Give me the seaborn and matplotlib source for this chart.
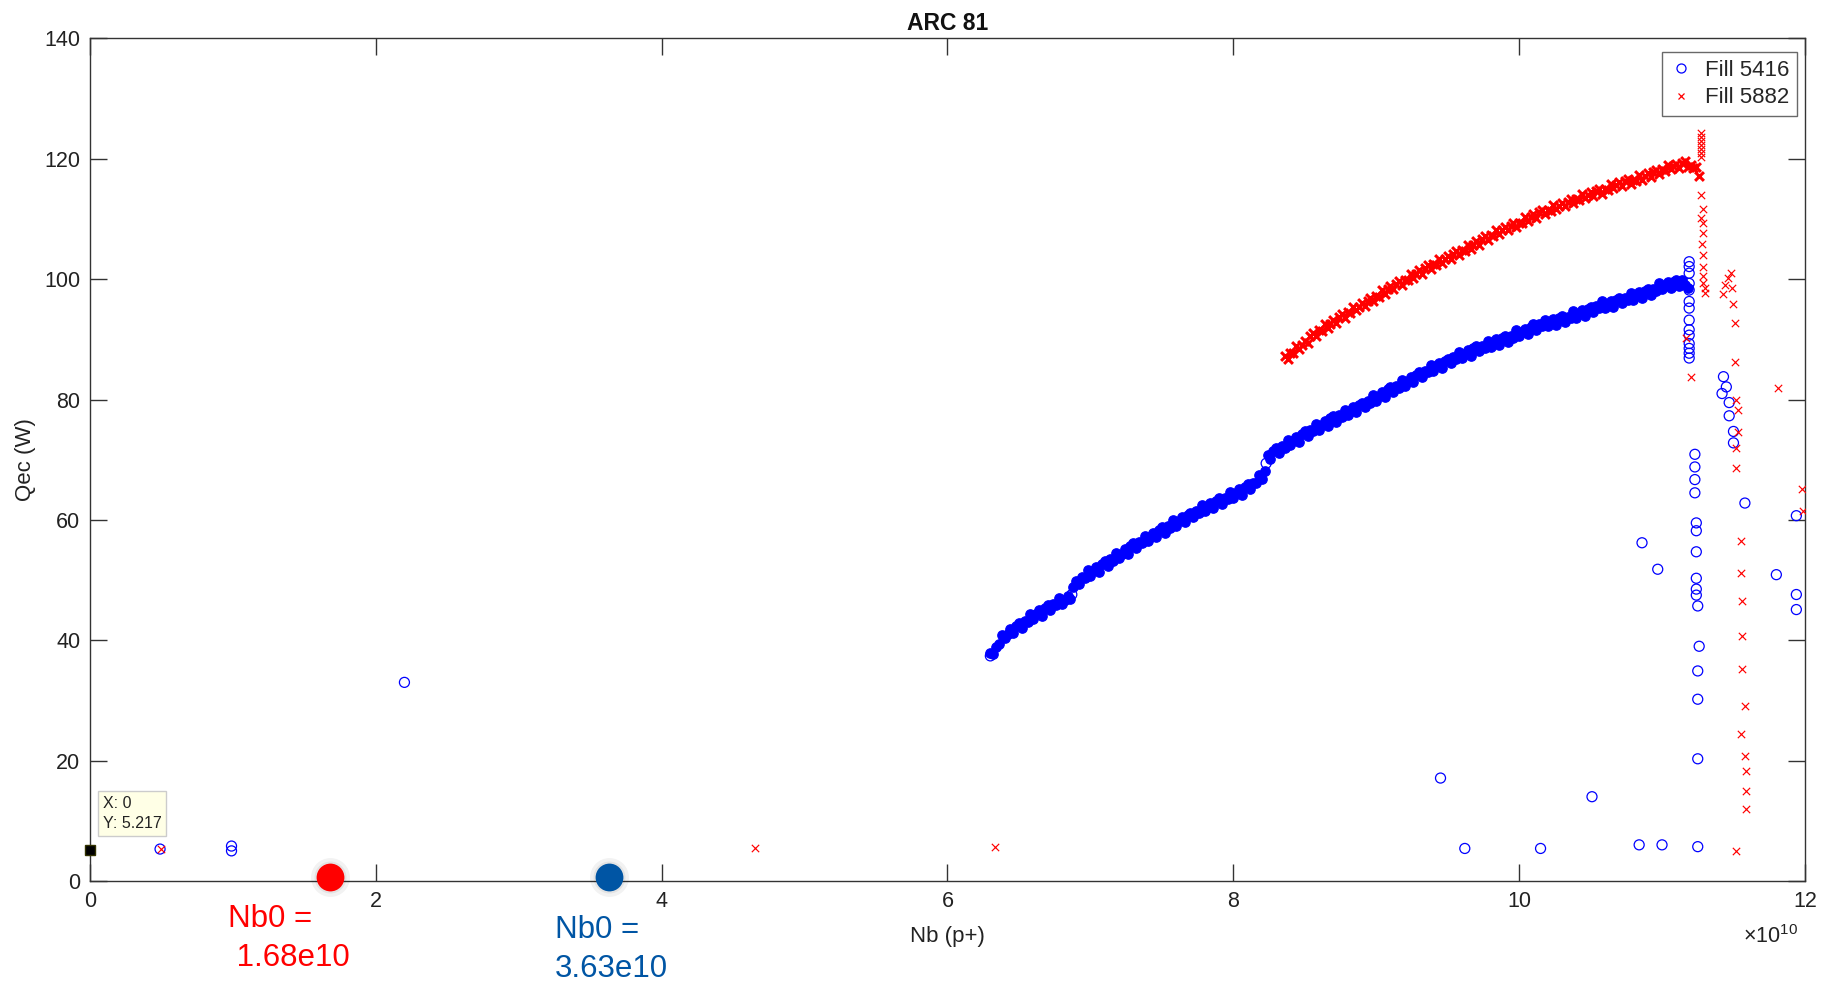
import matplotlib
matplotlib.use("Agg")
import matplotlib.pyplot as plt
from matplotlib.lines import Line2D
import seaborn as sns
import pandas as pd

# ---- Fill 5416 (blue circles): main curve ----
fill5416_x = [
    6.30, 6.32, 6.34, 6.36, 6.38, 6.40, 6.42, 6.44, 6.46, 6.48,
    6.50, 6.52, 6.54, 6.56, 6.58, 6.60, 6.62, 6.64, 6.66, 6.68,
    6.70, 6.72, 6.74, 6.76, 6.78, 6.80, 6.82, 6.84, 6.86, 6.88,
    6.90, 6.92, 6.94, 6.96, 6.98, 7.00, 7.02, 7.04, 7.06, 7.08,
    7.10, 7.12, 7.14, 7.16, 7.18, 7.20, 7.22, 7.24, 7.26, 7.28,
    7.30, 7.32, 7.34, 7.36, 7.38, 7.40, 7.42, 7.44, 7.46, 7.48,
    7.50, 7.52, 7.54, 7.56, 7.58, 7.60, 7.62, 7.64, 7.66, 7.68,
    7.70, 7.72, 7.74, 7.76, 7.78, 7.80, 7.82, 7.84, 7.86, 7.88,
    7.90, 7.92, 7.94, 7.96, 7.98, 8.00, 8.02, 8.04, 8.06, 8.08,
    8.10, 8.12, 8.14, 8.16, 8.18, 8.20, 8.22, 8.24, 8.26, 8.28,
    8.30, 8.32, 8.34, 8.36, 8.38, 8.40, 8.42, 8.44, 8.46, 8.48,
    8.50, 8.52, 8.54, 8.56, 8.58, 8.60, 8.62, 8.64, 8.66, 8.68,
    8.70, 8.72, 8.74, 8.76, 8.78, 8.80, 8.82, 8.84, 8.86, 8.88,
    8.90, 8.92, 8.94, 8.96, 8.98, 9.00, 9.02, 9.04, 9.06, 9.08,
    9.10, 9.12, 9.14, 9.16, 9.18, 9.20, 9.22, 9.24, 9.26, 9.28,
    9.30, 9.32, 9.34, 9.36, 9.38, 9.40, 9.42, 9.44, 9.46, 9.48,
    9.50, 9.52, 9.54, 9.56, 9.58, 9.60, 9.62, 9.64, 9.66, 9.68,
    9.70, 9.72, 9.74, 9.76, 9.78, 9.80, 9.82, 9.84, 9.86, 9.88,
    9.90, 9.92, 9.94, 9.96, 9.98, 10.00, 10.02, 10.04, 10.06, 10.08,
    10.10, 10.12, 10.14, 10.16, 10.18, 10.20, 10.22, 10.24, 10.26, 10.28,
    10.30, 10.32, 10.34, 10.36, 10.38, 10.40, 10.42, 10.44, 10.46, 10.48,
    10.50, 10.52, 10.54, 10.56, 10.58, 10.60, 10.62, 10.64, 10.66, 10.68,
    10.70, 10.72, 10.74, 10.76, 10.78, 10.80, 10.82, 10.84, 10.86, 10.88,
    10.90, 10.92, 10.94, 10.96, 10.98, 11.00, 11.02, 11.04, 11.06, 11.08,
    11.10, 11.12, 11.14, 11.16, 11.18]
fill5416_y = [
    37.8, 37.7, 38.8, 39.3, 40.8, 40.4, 41.1, 41.8, 41.2, 42.4,
    42.9, 42.1, 43.2, 43.1, 44.4, 43.5, 44.3, 45.0, 44.1, 45.4,
    45.8, 45.0, 46.0, 45.8, 47.0, 46.0, 46.7, 47.3, 46.9, 48.8,
    49.8, 49.3, 50.5, 50.3, 51.6, 50.7, 51.5, 52.2, 51.4, 52.7,
    53.2, 52.4, 53.5, 53.2, 54.5, 53.6, 54.4, 55.1, 54.3, 55.6,
    56.1, 55.3, 56.3, 56.1, 57.4, 56.5, 57.2, 57.9, 57.1, 58.3,
    58.8, 57.9, 59.0, 58.7, 60.0, 59.0, 59.8, 60.4, 59.6, 60.8,
    61.2, 60.4, 61.4, 61.2, 62.4, 61.4, 62.2, 62.8, 61.9, 63.2,
    63.6, 62.7, 63.7, 63.5, 64.7, 63.7, 64.5, 65.1, 64.2, 65.5,
    65.9, 65.1, 66.2, 66.1, 67.5, 66.8, 68.2, 70.8, 70.1, 71.5,
    72.0, 71.2, 72.2, 72.0, 73.3, 72.4, 73.1, 73.8, 73.0, 74.2,
    74.7, 73.9, 74.9, 74.7, 76.0, 75.0, 75.8, 76.5, 75.6, 76.9,
    77.2, 76.3, 77.4, 77.1, 78.3, 77.4, 78.1, 78.7, 77.9, 79.1,
    79.5, 78.7, 79.7, 79.5, 80.7, 79.8, 80.6, 81.2, 80.4, 81.7,
    82.1, 81.2, 82.3, 82.0, 83.3, 82.3, 83.1, 83.7, 82.9, 84.1,
    84.5, 83.7, 84.7, 84.5, 85.7, 84.7, 85.5, 86.1, 85.2, 86.4,
    86.8, 86.0, 87.0, 86.7, 87.9, 86.9, 87.6, 88.2, 87.3, 88.5,
    88.9, 88.0, 88.9, 88.6, 89.8, 88.7, 89.4, 90.0, 89.0, 90.2,
    90.5, 89.6, 90.6, 90.3, 91.5, 90.5, 91.2, 91.8, 90.9, 92.1,
    92.5, 91.6, 92.6, 92.2, 93.3, 92.3, 92.9, 93.4, 92.4, 93.6,
    93.9, 92.9, 93.8, 93.5, 94.7, 93.6, 94.3, 94.9, 93.9, 95.1,
    95.4, 94.5, 95.5, 95.2, 96.3, 95.2, 95.9, 96.4, 95.4, 96.6,
    96.9, 96.0, 96.9, 96.5, 97.7, 96.6, 97.3, 97.8, 96.8, 98.0,
    98.3, 97.4, 98.4, 98.1, 99.3, 98.3, 99.0, 99.5, 98.5, 99.6,
    99.9, 98.9, 99.8, 99.0, 98.6]

# ---- Fill 5416: scattered points (injection / dump) ----
fill5416_extra_x = [0.49, 0.99, 0.99, 2.20, 9.45, 9.62, 10.15, 10.51, 10.84, 11.00, 11.25,
                    10.86, 10.97, 11.80, 11.94, 11.94, 11.94, 11.58, 8.23, 6.87, 6.30,
                    11.47, 11.47, 11.50, 11.50, 11.43, 11.42, 11.45,
                    11.23, 11.23, 11.23, 11.23, 11.24, 11.24, 11.24, 11.24, 11.24, 11.24, 11.25,
                    11.26, 11.25, 11.25, 11.25,
                    11.19, 11.19, 11.19, 11.19, 11.19, 11.19, 11.19, 11.19, 11.19, 11.19, 11.19,
                    11.19, 11.19, 11.19]
fill5416_extra_y = [5.3, 5.0, 5.8, 33.0, 17.1, 5.4, 5.4, 14.0, 6.0, 6.0, 5.7,
                    56.2, 51.8, 50.9, 47.6, 45.1, 60.7, 62.8, 69.4, 47.6, 37.4,
                    79.5, 77.3, 74.7, 72.8, 83.8, 81.0, 82.1,
                    70.9, 68.8, 66.7, 64.5, 59.5, 58.2, 54.7, 50.3, 48.5, 47.5, 45.7,
                    39.0, 34.9, 30.2, 20.3,
                    102.9, 102.1, 101.0, 99.3, 98.2, 96.3, 95.2, 93.2, 91.6, 90.7, 89.3,
                    88.5, 87.7, 86.9]

# ---- Fill 5882 (red crosses): main curve ----
fill5882_x = [
    8.36, 8.38, 8.40, 8.42, 8.44, 8.46, 8.48, 8.50, 8.52, 8.54,
    8.56, 8.58, 8.60, 8.62, 8.64, 8.66, 8.68, 8.70, 8.72, 8.74,
    8.76, 8.78, 8.80, 8.82, 8.84, 8.86, 8.88, 8.90, 8.92, 8.94,
    8.96, 8.98, 9.00, 9.02, 9.04, 9.06, 9.08, 9.10, 9.12, 9.14,
    9.16, 9.18, 9.20, 9.22, 9.24, 9.26, 9.28, 9.30, 9.32, 9.34,
    9.36, 9.38, 9.40, 9.42, 9.44, 9.46, 9.48, 9.50, 9.52, 9.54,
    9.56, 9.58, 9.60, 9.62, 9.64, 9.66, 9.68, 9.70, 9.72, 9.74,
    9.76, 9.78, 9.80, 9.82, 9.84, 9.86, 9.88, 9.90, 9.92, 9.94,
    9.96, 9.98, 10.00, 10.02, 10.04, 10.06, 10.08, 10.10, 10.12, 10.14,
    10.16, 10.18, 10.20, 10.22, 10.24, 10.26, 10.28, 10.30, 10.32, 10.34,
    10.36, 10.38, 10.40, 10.42, 10.44, 10.46, 10.48, 10.50, 10.52, 10.54,
    10.56, 10.58, 10.60, 10.62, 10.64, 10.66, 10.68, 10.70, 10.72, 10.74,
    10.76, 10.78, 10.80, 10.82, 10.84, 10.86, 10.88, 10.90, 10.92, 10.94,
    10.96, 10.98, 11.00, 11.02, 11.04, 11.06, 11.08, 11.10, 11.12, 11.14,
    11.16, 11.18, 11.20, 11.22, 11.24, 11.26]
fill5882_y = [
    87.3, 86.8, 87.8, 87.7, 88.9, 88.4, 89.1, 89.8, 89.4, 90.5,
    91.1, 90.5, 91.5, 91.4, 92.5, 91.9, 92.6, 93.2, 92.7, 93.7,
    94.2, 93.6, 94.5, 94.3, 95.4, 94.8, 95.4, 96.0, 95.5, 96.4,
    96.9, 96.3, 97.2, 97.1, 98.2, 97.6, 98.3, 98.8, 98.3, 99.2,
    99.7, 99.0, 99.9, 99.8, 100.8, 100.2, 100.9, 101.5, 100.9, 101.9,
    102.3, 101.7, 102.5, 102.4, 103.4, 102.7, 103.4, 103.9, 103.3, 104.2,
    104.7, 104.0, 104.9, 104.7, 105.7, 105.1, 105.7, 106.3, 105.7, 106.7,
    107.1, 106.5, 107.3, 107.1, 108.2, 107.5, 108.1, 108.7, 108.1, 108.9,
    109.3, 108.6, 109.4, 109.3, 110.3, 109.6, 110.3, 110.8, 110.2, 111.1,
    111.5, 110.8, 111.5, 111.3, 112.3, 111.6, 112.2, 112.7, 112.1, 112.9,
    113.3, 112.6, 113.4, 113.2, 114.2, 113.5, 114.0, 114.5, 113.8, 114.6,
    115.0, 114.2, 115.0, 114.8, 115.8, 115.1, 115.6, 116.1, 115.5, 116.3,
    116.6, 115.8, 116.5, 116.3, 117.3, 116.5, 117.1, 117.6, 116.9, 117.8,
    118.2, 117.5, 118.3, 118.0, 119.0, 118.3, 118.8, 119.2, 118.5, 119.3,
    119.6, 118.6, 119.0, 118.4, 118.7, 117.2]

# ---- Fill 5882: scattered points ----
fill5882_extra_x = [0.50, 4.65, 6.33,
                    11.27, 11.27, 11.27, 11.27, 11.27, 11.27, 11.27,
                    11.27, 11.29, 11.27, 11.29, 11.29, 11.28, 11.29, 11.29, 11.29, 11.30, 11.30, 11.29,
                    11.17, 11.20,
                    11.48, 11.46, 11.44, 11.43, 11.49, 11.50, 11.51, 11.51, 11.81, 11.52, 11.53,
                    11.53, 11.52, 11.52, 11.98, 11.99, 11.55, 11.55, 11.56, 11.56, 11.56, 11.58,
                    11.55, 11.58, 11.59, 11.59, 11.59, 11.52]
fill5882_extra_y = [5.3, 5.4, 5.6,
                    124.3, 123.6, 123.0, 122.3, 121.6, 121.0, 120.3,
                    114.0, 111.6, 110.1, 109.3, 107.6, 105.9, 104.0, 102.1, 99.3, 97.7, 98.5, 100.5,
                    90.2, 83.7,
                    101.0, 100.2, 99.0, 97.6, 98.5, 95.9, 92.7, 86.3, 82.0, 79.9, 78.3,
                    74.6, 72.0, 68.6, 65.1, 61.4, 56.5, 51.2, 46.6, 40.7, 35.3, 29.0,
                    24.5, 20.8, 18.2, 15.0, 11.9, 5.0]

# ---- Data cursor and Nb0 markers ----
cursor_x, cursor_y = 0.0, 5.217
nb0_values = [1.68, 3.63]
nb0_labels = ["Nb0 =\n 1.68e10", "Nb0 =\n3.63e10"]
nb0_colors = ["#ff0000", "#0055a4"]

x_ticks = [0, 2, 4, 6, 8, 10, 12]
y_ticks = [0, 20, 40, 60, 80, 100, 120, 140]

curve5416 = pd.DataFrame({"Nb": fill5416_x, "Qec": fill5416_y})
extra5416 = pd.DataFrame({"Nb": fill5416_extra_x, "Qec": fill5416_extra_y})
curve5882 = pd.DataFrame({"Nb": fill5882_x, "Qec": fill5882_y})
extra5882 = pd.DataFrame({"Nb": fill5882_extra_x, "Qec": fill5882_extra_y})

sns.set_theme(style="white")
plt.rcParams["font.family"] = ["Liberation Sans", "DejaVu Sans"]
plt.rcParams["mathtext.fontset"] = "custom"
plt.rcParams["mathtext.rm"] = "Liberation Sans"

fig = plt.figure(figsize=(18.3, 9.82), dpi=100)
ax = fig.add_axes([0.0492, 0.1029, 0.9371, 0.8579])

BLUE = "#0000ff"
RED = "#ff0000"
TXT = "#222222"

# dense logged samples overlap into a solid band
sns.scatterplot(data=curve5416, x="Nb", y="Qec", ax=ax, marker="o", s=46,
                color=BLUE, facecolor=BLUE, edgecolor=BLUE, linewidth=0.9, zorder=3)
sns.scatterplot(data=extra5416, x="Nb", y="Qec", ax=ax, marker="o", s=52,
                color=BLUE, facecolor="none", edgecolor=BLUE, linewidth=0.9, zorder=3)
sns.scatterplot(data=curve5882, x="Nb", y="Qec", ax=ax, marker="x", s=40,
                color=RED, linewidth=2.2, zorder=4)
sns.scatterplot(data=extra5882, x="Nb", y="Qec", ax=ax, marker="x", s=28,
                color=RED, linewidth=0.85, zorder=4)

ax.set_xlim(0, 12)
ax.set_ylim(0, 140)
ax.set_xticks(x_ticks)
ax.set_yticks(y_ticks)
ax.set_xticklabels([str(t) for t in x_ticks])
ax.set_yticklabels([str(t) for t in y_ticks])

spine_color = "#333333"
for sp in ax.spines.values():
    sp.set_visible(True)
    sp.set_color(spine_color)
    sp.set_linewidth(1.0)
ax.tick_params(axis="both", which="both", direction="in", length=12, width=1.0,
               color=spine_color, labelsize=15.5, labelcolor=TXT,
               top=True, right=True, bottom=True, left=True, pad=7)

ax.set_xlabel("Nb (p+)", fontsize=16, color=TXT, labelpad=10)
ax.set_ylabel("Qec (W)", fontsize=16, color=TXT, labelpad=6)
ax.set_title("ARC 81", fontsize=16.5, fontweight="bold", color="#111111", pad=6)

# exponent of the x axis
fig.text(0.9825, 0.046, r"$\times10^{10}$", fontsize=15.5, ha="right", va="center",
         color=TXT)

# legend
handles = [Line2D([], [], linestyle="none", marker="o", markersize=6.5,
                  markerfacecolor="none", markeredgecolor=BLUE, markeredgewidth=0.9),
           Line2D([], [], linestyle="none", marker="x", markersize=5,
                  color=RED, markeredgewidth=0.9)]
leg = ax.legend(handles, ["Fill 5416", "Fill 5882"], loc="upper right",
                bbox_to_anchor=(0.9955, 0.984), fontsize=16, frameon=True,
                fancybox=False, edgecolor="#444444", handletextpad=0.6,
                borderpad=0.35, labelspacing=0.3, handlelength=1.0, borderaxespad=0)
leg.get_frame().set_linewidth(1.0)

# data cursor
ax.plot([cursor_x], [cursor_y], marker="s", markersize=7, color="black",
        markeredgecolor="#333300", clip_on=False, zorder=6)
ax.text(0.09, 11.2, "X: 0\nY: 5.217", fontsize=11.5, color=TXT,
        va="center", ha="left", linespacing=1.4, zorder=6,
        bbox=dict(boxstyle="square,pad=0.3", facecolor="#ffffe6",
                  edgecolor="#cccccc", linewidth=1.0))

# Nb0 markers with their labels
label_pos = [(228, 0.044), (555, 0.033)]
for val, lab, col, (px, fy) in zip(nb0_values, nb0_labels, nb0_colors, label_pos):
    ax.plot([val], [0.7], marker="o", markersize=28, color="#000000", alpha=0.05,
            markeredgewidth=0, clip_on=False, zorder=7)
    ax.plot([val], [0.7], marker="o", markersize=23, color="#000000", alpha=0.06,
            markeredgewidth=0, clip_on=False, zorder=7)
    ax.plot([val], [0.7], marker="o", markersize=20, color=col, markeredgewidth=0,
            clip_on=False, zorder=8)
    fig.text(px / 1830, fy, lab, fontsize=22.5, color=col, ha="left", va="center",
             linespacing=1.4)

fig.savefig("out.png", dpi=100, facecolor="white")
